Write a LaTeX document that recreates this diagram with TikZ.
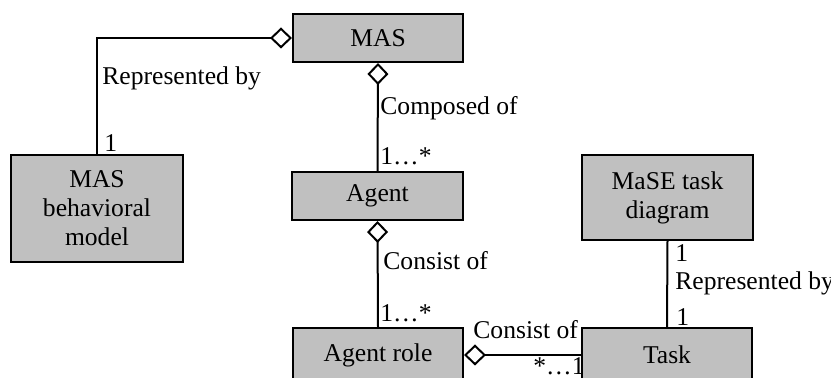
\documentclass[tikz,border=0pt]{standalone}
\usepackage{fontspec}
\setmainfont{Liberation Serif}
\usetikzlibrary{positioning}
\usetikzlibrary{arrows.meta}
\definecolor{boxgray}{RGB}{192,192,192}

\begin{document}
\begin{tikzpicture}[x=0.5pt, y=-0.5pt,
    box/.style={draw, line width=1pt, fill=boxgray, align=center,
                font=\fontsize{12.8}{14.5}\selectfont, inner sep=0pt},
    lbl/.style={anchor=base west, inner sep=0pt, font=\fontsize{12.8}{14.5}\selectfont},
    agg/.style={line width=1pt, -{Diamond[open, length=11pt, width=10.5pt]}}]
    \useasboundingbox (0,0) rectangle (831,378);
    \clip (0,0) rectangle (831,378);

    % Classes
    \node[box, minimum width=85pt, minimum height=24pt] (mas) at (378,38) {MAS};
    \node[box, minimum width=86pt, minimum height=53.5pt] (bm) at (97,208.5) {MAS\\behavioral\\model};
    \node[box, minimum width=85.5pt, minimum height=24pt] (agent) at (377.5,196) {Agent};
    \node[box, minimum width=85.5pt, minimum height=42.5pt] (mase) at (667.5,197.5) {MaSE task\\diagram};
    \node[box, minimum width=85pt, minimum height=27pt] (role) at (378,355) {Agent role};
    \node[box, minimum width=85pt, minimum height=27pt] (task) at (667,355) {Task};

    % Associations
    \draw[agg] (bm.north) |- (mas.west);
    \draw[agg] (agent.north) -- (mas.south);
    \draw[agg] (role.north) -- (agent.south);
    \draw[agg] (task.west) -- (role.east);
    \draw[line width=1pt] (task.north) -- (mase.south);

    % Labels and multiplicities
    \foreach \n/\x/\y/\t in {rep1/102/85/Represented by, m1/104/152/1,
                             comp/380/115/Composed of, m2/380/165/1\ldots*,
                             cons1/383/270/Consist of, m3/380/322/1\ldots*,
                             cons2/473/339/Consist of, m4/533/375/*\ldots1,
                             m5/675/262/1, rep2/675/290/Represented by,
                             m6/676/326/1} {
        \node[lbl] (\n) at (\x,\y) {\t};
    }
\end{tikzpicture}
\end{document}
